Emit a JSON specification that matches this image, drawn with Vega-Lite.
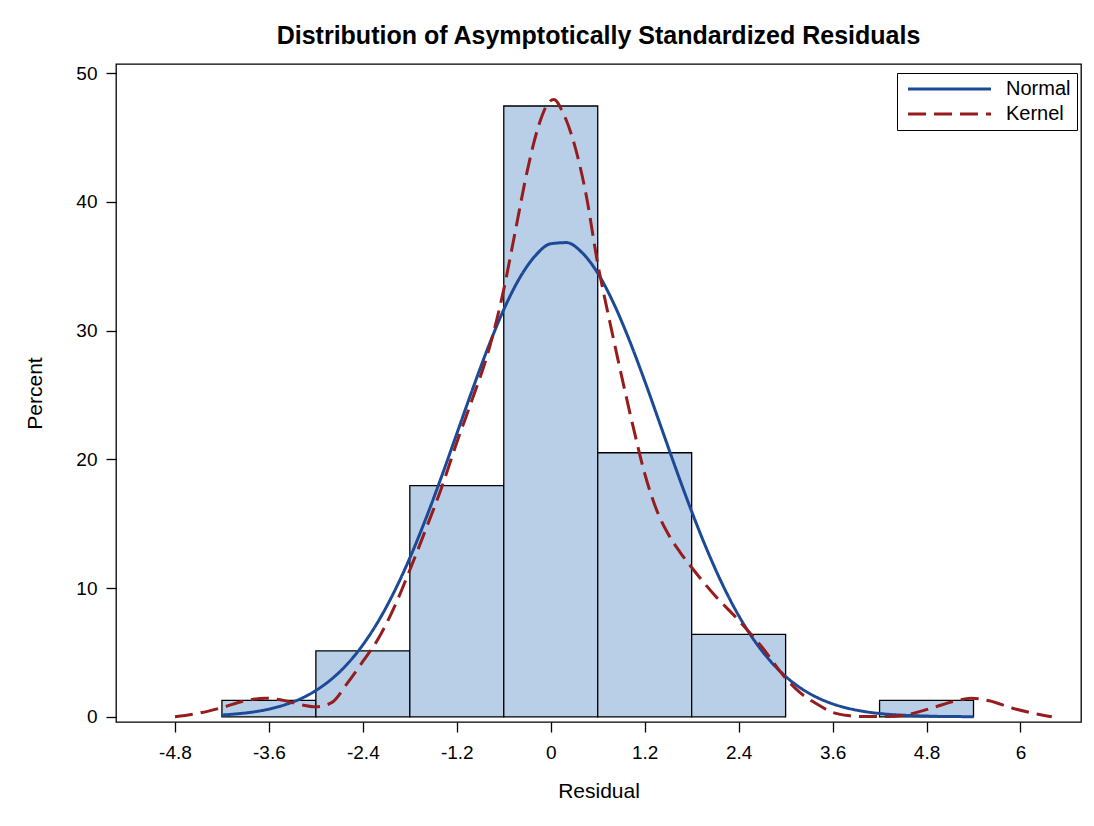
{
  "$schema": "https://vega.github.io/schema/vega-lite/v6.json",
  "autosize": {"type": "none"},
  "width": 965,
  "height": 658,
  "padding": {"left": 116, "top": 64, "right": 13, "bottom": 104},
  "background": "white",
  "title": {
    "text": "Distribution of Asymptotically Standardized Residuals",
    "fontSize": 25,
    "fontWeight": "bold",
    "font": "Liberation Sans",
    "color": "black",
    "frame": "group",
    "anchor": "middle",
    "offset": 15
  },
  "config": {
    "font": "Liberation Sans",
    "view": {"stroke": "black", "strokeWidth": 1.3},
    "axis": {
      "domain": false,
      "grid": false,
      "tickColor": "black",
      "tickSize": 10,
      "tickWidth": 1.3,
      "labelColor": "black",
      "labelFontSize": 19,
      "titleColor": "black",
      "titleFontSize": 21,
      "titleFontWeight": "normal"
    }
  },
  "datasets": {
    "hist": [
      {"start": -4.2, "end": -3.0, "percent": 1.28},
      {"start": -3.0, "end": -1.8, "percent": 5.13},
      {"start": -1.8, "end": -0.6, "percent": 17.95},
      {"start": -0.6, "end": 0.6, "percent": 47.44},
      {"start": 0.6, "end": 1.8, "percent": 20.51},
      {"start": 1.8, "end": 3.0, "percent": 6.41},
      {"start": 4.2, "end": 5.4, "percent": 1.28}
    ],
    "normal": [
      {"x": -4.2, "y": 0.14, "series": "Normal"},
      {"x": -4.0, "y": 0.24, "series": "Normal"},
      {"x": -3.8, "y": 0.38, "series": "Normal"},
      {"x": -3.6, "y": 0.60, "series": "Normal"},
      {"x": -3.4, "y": 0.93, "series": "Normal"},
      {"x": -3.2, "y": 1.39, "series": "Normal"},
      {"x": -3.0, "y": 2.05, "series": "Normal"},
      {"x": -2.8, "y": 2.93, "series": "Normal"},
      {"x": -2.6, "y": 4.09, "series": "Normal"},
      {"x": -2.4, "y": 5.59, "series": "Normal"},
      {"x": -2.2, "y": 7.45, "series": "Normal"},
      {"x": -2.0, "y": 9.71, "series": "Normal"},
      {"x": -1.8, "y": 12.34, "series": "Normal"},
      {"x": -1.6, "y": 15.32, "series": "Normal"},
      {"x": -1.4, "y": 18.57, "series": "Normal"},
      {"x": -1.2, "y": 21.99, "series": "Normal"},
      {"x": -1.0, "y": 25.42, "series": "Normal"},
      {"x": -0.8, "y": 28.69, "series": "Normal"},
      {"x": -0.6, "y": 31.63, "series": "Normal"},
      {"x": -0.4, "y": 34.05, "series": "Normal"},
      {"x": -0.2, "y": 35.79, "series": "Normal"},
      {"x": 0.0, "y": 36.74, "series": "Normal"},
      {"x": 0.2, "y": 36.83, "series": "Normal"},
      {"x": 0.4, "y": 36.05, "series": "Normal"},
      {"x": 0.6, "y": 34.46, "series": "Normal"},
      {"x": 0.8, "y": 32.16, "series": "Normal"},
      {"x": 1.0, "y": 29.31, "series": "Normal"},
      {"x": 1.2, "y": 26.09, "series": "Normal"},
      {"x": 1.4, "y": 22.67, "series": "Normal"},
      {"x": 1.6, "y": 19.24, "series": "Normal"},
      {"x": 1.8, "y": 15.95, "series": "Normal"},
      {"x": 2.0, "y": 12.91, "series": "Normal"},
      {"x": 2.2, "y": 10.20, "series": "Normal"},
      {"x": 2.4, "y": 7.87, "series": "Normal"},
      {"x": 2.6, "y": 5.93, "series": "Normal"},
      {"x": 2.8, "y": 4.37, "series": "Normal"},
      {"x": 3.0, "y": 3.14, "series": "Normal"},
      {"x": 3.2, "y": 2.20, "series": "Normal"},
      {"x": 3.4, "y": 1.51, "series": "Normal"},
      {"x": 3.6, "y": 1.01, "series": "Normal"},
      {"x": 3.8, "y": 0.66, "series": "Normal"},
      {"x": 4.0, "y": 0.42, "series": "Normal"},
      {"x": 4.2, "y": 0.26, "series": "Normal"},
      {"x": 4.4, "y": 0.16, "series": "Normal"},
      {"x": 4.6, "y": 0.10, "series": "Normal"},
      {"x": 4.8, "y": 0.06, "series": "Normal"},
      {"x": 5.0, "y": 0.03, "series": "Normal"},
      {"x": 5.2, "y": 0.02, "series": "Normal"},
      {"x": 5.4, "y": 0.01, "series": "Normal"}
    ],
    "kernel": [
      {"x": -4.8, "y": 0.0, "series": "Kernel"},
      {"x": -4.5, "y": 0.28, "series": "Kernel"},
      {"x": -4.2, "y": 0.72, "series": "Kernel"},
      {"x": -3.9, "y": 1.25, "series": "Kernel"},
      {"x": -3.65, "y": 1.45, "series": "Kernel"},
      {"x": -3.4, "y": 1.26, "series": "Kernel"},
      {"x": -3.2, "y": 0.95, "series": "Kernel"},
      {"x": -3.0, "y": 0.78, "series": "Kernel"},
      {"x": -2.8, "y": 1.1, "series": "Kernel"},
      {"x": -2.6, "y": 2.6, "series": "Kernel"},
      {"x": -2.4, "y": 4.3, "series": "Kernel"},
      {"x": -2.2, "y": 6.1, "series": "Kernel"},
      {"x": -2.0, "y": 8.5, "series": "Kernel"},
      {"x": -1.8, "y": 11.4, "series": "Kernel"},
      {"x": -1.6, "y": 14.5, "series": "Kernel"},
      {"x": -1.4, "y": 17.7, "series": "Kernel"},
      {"x": -1.2, "y": 21.3, "series": "Kernel"},
      {"x": -1.0, "y": 24.7, "series": "Kernel"},
      {"x": -0.8, "y": 28.3, "series": "Kernel"},
      {"x": -0.6, "y": 33.2, "series": "Kernel"},
      {"x": -0.45, "y": 37.8, "series": "Kernel"},
      {"x": -0.3, "y": 42.4, "series": "Kernel"},
      {"x": -0.15, "y": 46.0, "series": "Kernel"},
      {"x": -0.05, "y": 47.5, "series": "Kernel"},
      {"x": 0.04, "y": 47.95, "series": "Kernel"},
      {"x": 0.15, "y": 47.0, "series": "Kernel"},
      {"x": 0.3, "y": 44.5, "series": "Kernel"},
      {"x": 0.45, "y": 40.6, "series": "Kernel"},
      {"x": 0.6, "y": 35.2, "series": "Kernel"},
      {"x": 0.75, "y": 30.8, "series": "Kernel"},
      {"x": 0.9, "y": 26.6, "series": "Kernel"},
      {"x": 1.05, "y": 22.6, "series": "Kernel"},
      {"x": 1.2, "y": 18.9, "series": "Kernel"},
      {"x": 1.35, "y": 16.1, "series": "Kernel"},
      {"x": 1.5, "y": 14.2, "series": "Kernel"},
      {"x": 1.65, "y": 12.8, "series": "Kernel"},
      {"x": 1.8, "y": 11.6, "series": "Kernel"},
      {"x": 2.1, "y": 9.4, "series": "Kernel"},
      {"x": 2.4, "y": 7.5, "series": "Kernel"},
      {"x": 2.7, "y": 5.4, "series": "Kernel"},
      {"x": 3.0, "y": 3.0, "series": "Kernel"},
      {"x": 3.2, "y": 1.8, "series": "Kernel"},
      {"x": 3.4, "y": 1.0, "series": "Kernel"},
      {"x": 3.6, "y": 0.35, "series": "Kernel"},
      {"x": 3.8, "y": 0.1, "series": "Kernel"},
      {"x": 4.0, "y": 0.02, "series": "Kernel"},
      {"x": 4.3, "y": 0.02, "series": "Kernel"},
      {"x": 4.6, "y": 0.23, "series": "Kernel"},
      {"x": 4.9, "y": 0.75, "series": "Kernel"},
      {"x": 5.15, "y": 1.2, "series": "Kernel"},
      {"x": 5.37, "y": 1.45, "series": "Kernel"},
      {"x": 5.6, "y": 1.25, "series": "Kernel"},
      {"x": 5.9, "y": 0.67, "series": "Kernel"},
      {"x": 6.15, "y": 0.3, "series": "Kernel"},
      {"x": 6.4, "y": 0.0, "series": "Kernel"}
    ]
  },
  "layer": [
    {
      "data": {"name": "hist"},
      "mark": {"type": "rect", "fill": "#B9CFE8", "stroke": "black", "strokeWidth": 1.3},
      "encoding": {
        "x": {
          "field": "start",
          "type": "quantitative",
          "scale": {"domain": [-5.553, 6.773], "nice": false, "zero": false},
          "axis": {
            "title": "Residual",
            "values": [-4.8, -3.6, -2.4, -1.2, 0, 1.2, 2.4, 3.6, 4.8, 6],
            "labelExpr": "'' + datum.value",
            "labelPadding": 11,
            "titlePadding": 18
          }
        },
        "x2": {"field": "end"},
        "y": {
          "field": "percent",
          "type": "quantitative",
          "scale": {"domain": [-0.4, 50.7], "nice": false, "zero": false},
          "axis": {
            "title": "Percent",
            "values": [0, 10, 20, 30, 40, 50],
            "labelPadding": 9,
            "titlePadding": 30
          }
        },
        "y2": {"datum": 0}
      }
    },
    {
      "data": {"name": "normal"},
      "mark": {"type": "line", "strokeWidth": 3, "interpolate": "monotone"},
      "encoding": {
        "x": {"field": "x", "type": "quantitative"},
        "y": {"field": "y", "type": "quantitative"},
        "color": {
          "field": "series",
          "type": "nominal",
          "scale": {"domain": ["Normal", "Kernel"], "range": ["#1C4A96", "#961C1E"]},
          "legend": {
            "title": null,
            "orient": "none",
            "legendX": 781,
            "legendY": 9,
            "strokeColor": "black",
            "fillColor": "white",
            "padding": 6,
            "rowPadding": 5,
            "labelFontSize": 20,
            "labelColor": "black",
            "labelOffset": 83,
            "symbolType": "M-1,0H15.6",
            "symbolSize": 100,
            "symbolStrokeWidth": 3
          }
        },
        "strokeDash": {
          "field": "series",
          "type": "nominal",
          "scale": {"domain": ["Normal", "Kernel"], "range": [[1, 0], [18, 8]]},
          "legend": {
            "title": null,
            "orient": "none",
            "legendX": 781,
            "legendY": 9,
            "strokeColor": "black",
            "fillColor": "white",
            "padding": 6,
            "rowPadding": 5,
            "labelFontSize": 20,
            "labelColor": "black",
            "labelOffset": 83,
            "symbolType": "M-1,0H15.6",
            "symbolSize": 100,
            "symbolStrokeWidth": 3
          }
        }
      }
    },
    {
      "data": {"name": "kernel"},
      "mark": {"type": "line", "strokeWidth": 3, "interpolate": "monotone"},
      "encoding": {
        "x": {"field": "x", "type": "quantitative"},
        "y": {"field": "y", "type": "quantitative"},
        "color": {"field": "series", "type": "nominal"},
        "strokeDash": {"field": "series", "type": "nominal"}
      }
    }
  ]
}
